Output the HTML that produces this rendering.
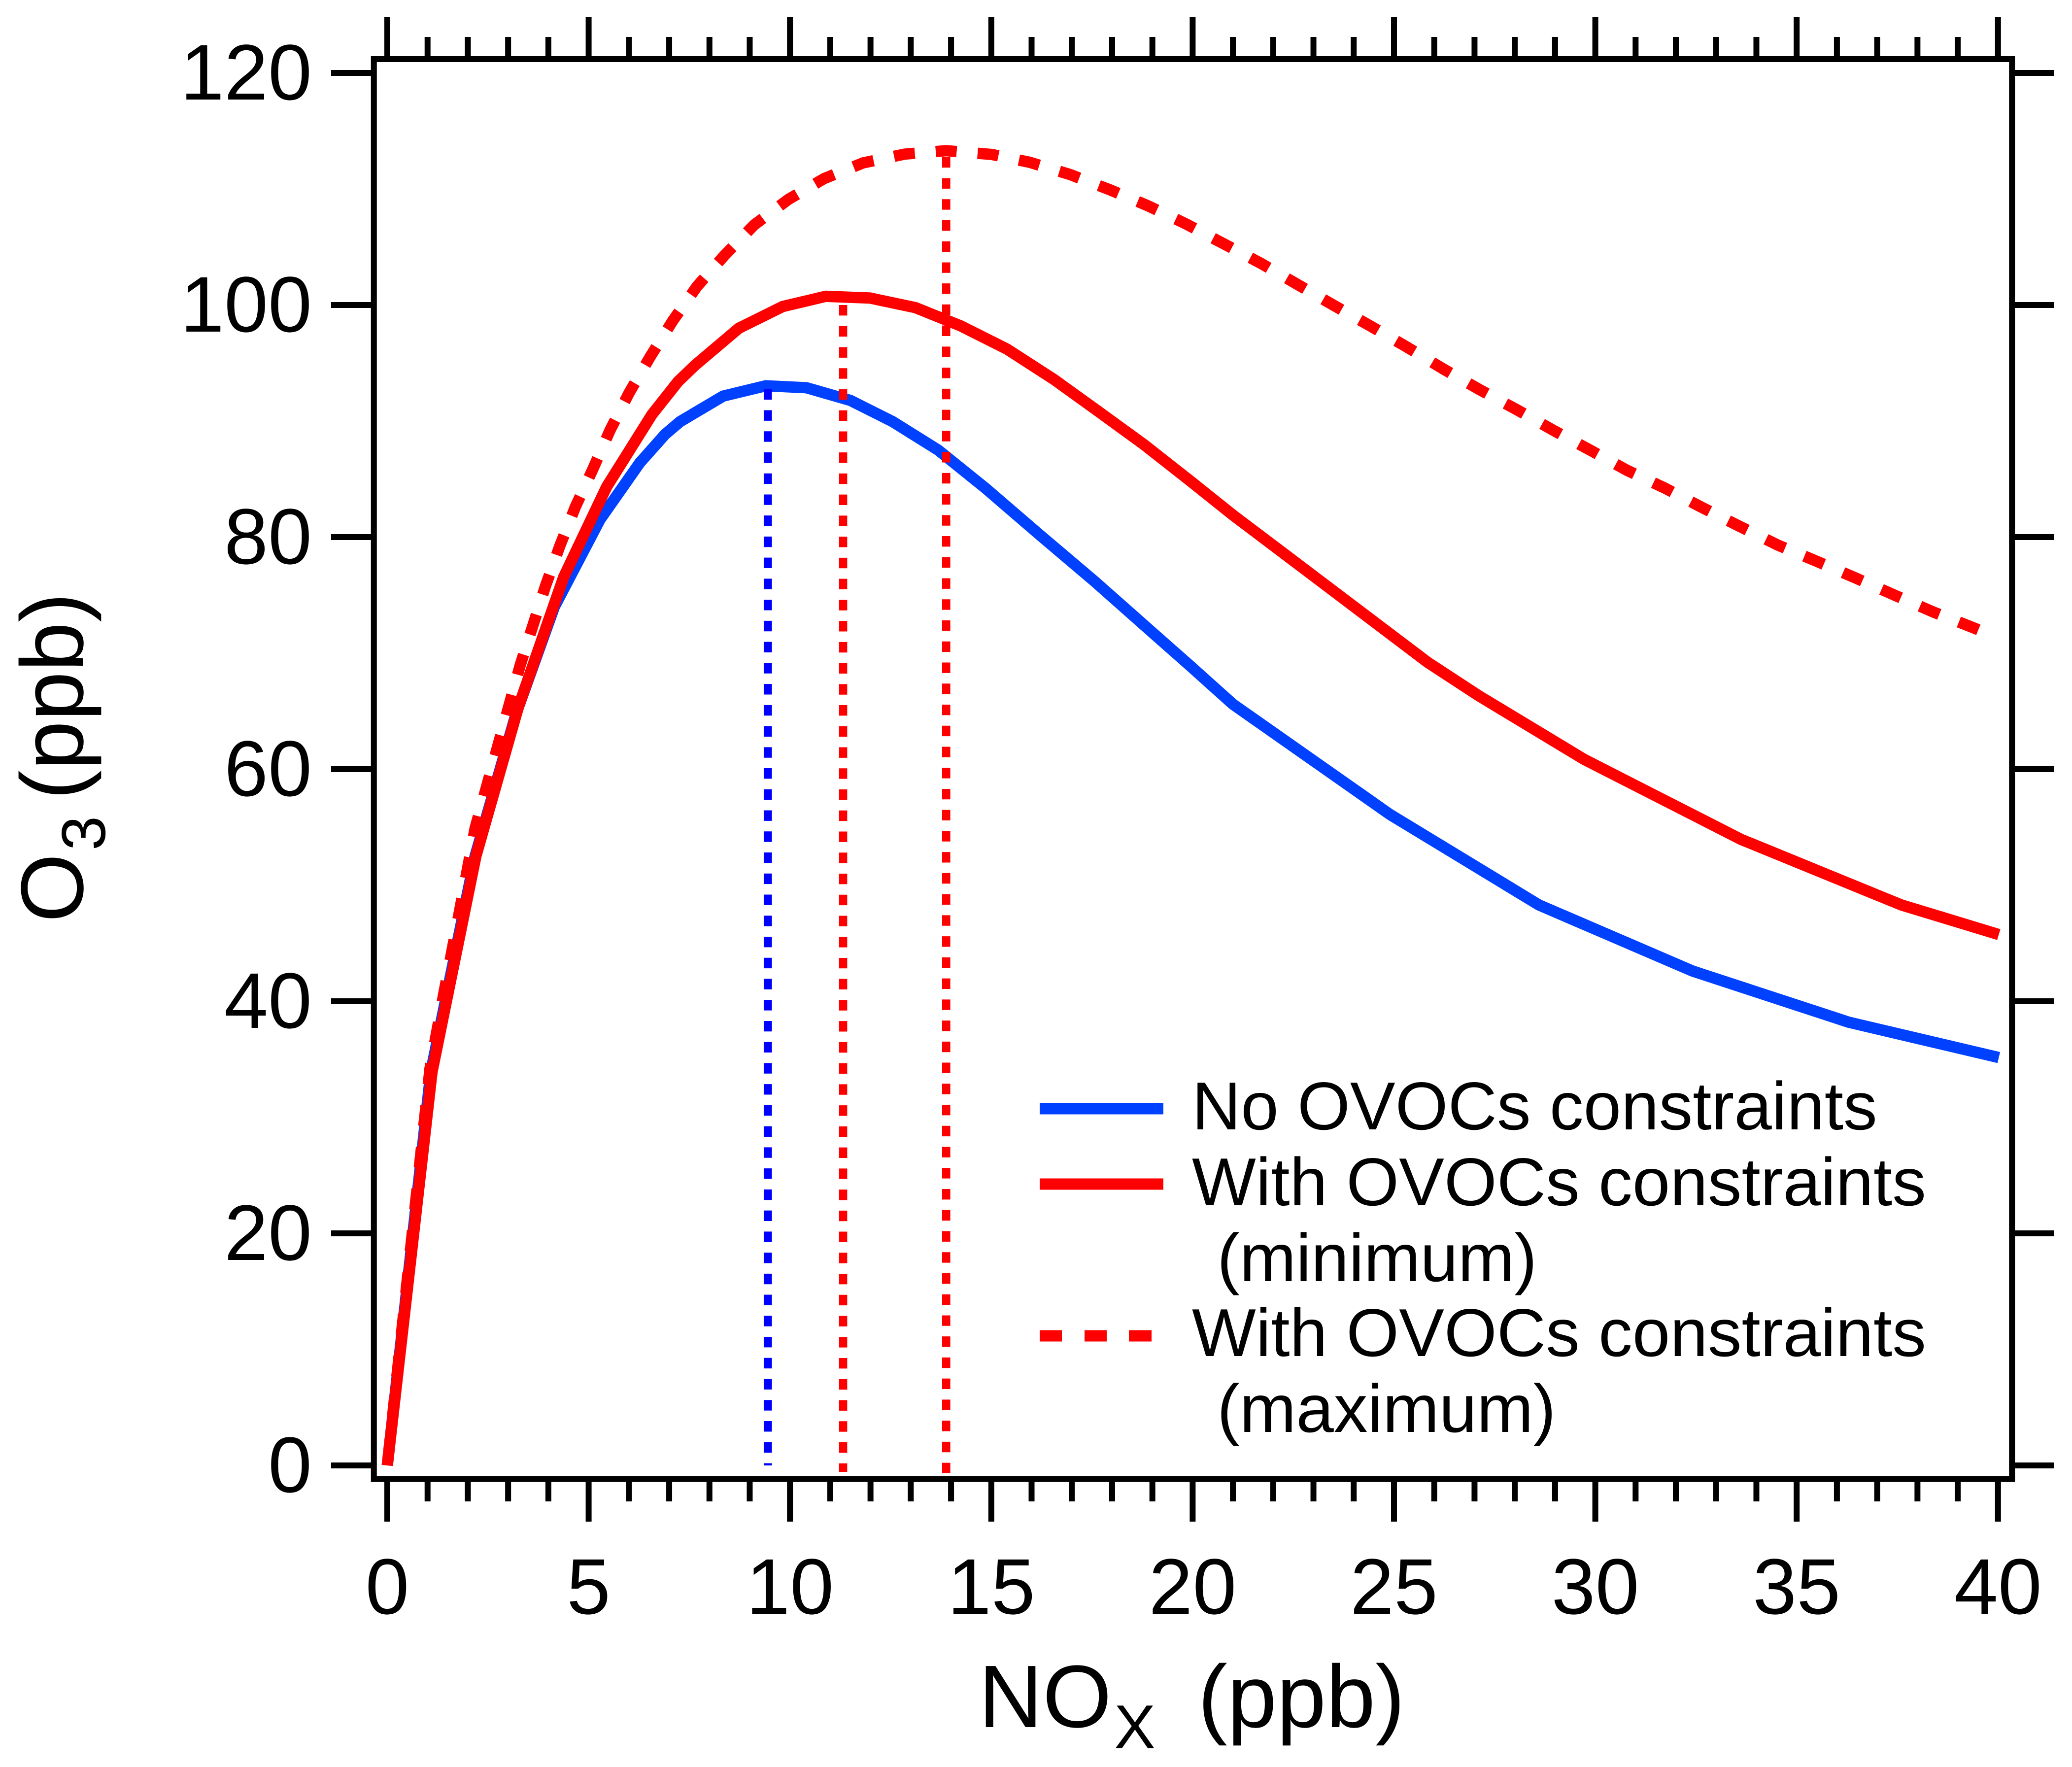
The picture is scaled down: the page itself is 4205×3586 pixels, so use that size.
<!DOCTYPE html>
<html lang="en">
<head>
<meta charset="utf-8">
<title>O3 vs NOx</title>
<style>
html,body{margin:0;padding:0;background:#fff;}
svg{display:block;}
text{font-family:"Liberation Sans",Arial,sans-serif;fill:#000;text-rendering:geometricPrecision;}
</style>
</head>
<body>
<svg id="chart" xmlns="http://www.w3.org/2000/svg" width="4205" height="3586" viewBox="0 0 4205 3586">
  <rect x="0" y="0" width="4205" height="3586" fill="#fff"/>
  <g id="series-layer"></g>
  <g id="marker-layer"></g>
  <rect x="758.75" y="120" width="3324.5" height="2881.5" fill="none" stroke="#000" stroke-width="12"/>
  <g id="axis-layer"></g>

  <text font-size="180" y="3505"><tspan x="1986">NO</tspan><tspan x="2261" y="3548" font-size="126">X</tspan><tspan x="2431" y="3505">(ppb)</tspan></text>
  <g>
    <text font-size="180" transform="translate(168,1872) rotate(-90)">O</text>
    <text font-size="126" transform="translate(213,1726) rotate(-90)">3</text>
    <text font-size="180" transform="translate(168,1623) rotate(-90)">(ppb)</text>
  </g>

  <g>
    <rect x="2110" y="2238.5" width="251" height="23" fill="#0040ff"/>
    <rect x="2110" y="2391.5" width="251" height="23" fill="#ff0000"/>
    <rect x="2110" y="2699.5" width="45" height="23" fill="#ff0000"/>
    <rect x="2201" y="2699.5" width="45" height="23" fill="#ff0000"/>
    <rect x="2291" y="2699.5" width="46" height="23" fill="#ff0000"/>
    <text font-size="137.5" x="2419" y="2292">No OVOCs constraints</text>
    <text font-size="137.5" x="2419" y="2446">With OVOCs constraints</text>
    <text font-size="137.5" x="2470" y="2600">(minimum)</text>
    <text font-size="137.5" x="2419" y="2752">With OVOCs constraints</text>
    <text font-size="137.5" x="2470" y="2906">(maximum)</text>
  </g>
</svg>
<script>
// ---- chart data ----
const xTickLabels = [0, 5, 10, 15, 20, 25, 30, 35, 40];
const yTickLabels = [0, 20, 40, 60, 80, 100, 120];

const noOvocsX = [0, 1.08, 2.18, 3.2, 4.15, 5.28, 6.27, 6.9, 7.27, 8.34, 9.4, 10.41, 11.5, 12.55, 13.68, 14.86, 16.2, 17.56, 18.96, 19.94, 21.0, 24.9, 28.6, 32.42, 36.29, 40.02];
const noOvocsY = [0, 33.9, 52.5, 64.8, 74, 81.5, 86.4, 88.86, 89.95, 92.15, 93.04, 92.87, 91.78, 89.95, 87.5, 84.2, 80.2, 76.2, 71.9, 68.9, 65.6, 56.1, 48.3, 42.6, 38.2, 35.15];

const minOvocsX = [0, 1.11, 2.2, 3.25, 4.38, 5.45, 6.57, 7.22, 7.64, 8.73, 9.82, 10.89, 11.99, 13.12, 14.24, 15.39, 16.55, 17.65, 18.8, 19.9, 21.0, 22.24, 25.84, 27.1, 29.72, 33.62, 37.6, 40.02];
const minOvocsY = [0, 33.9, 52.5, 65.3, 76.55, 84.35, 90.55, 93.4, 94.8, 98.0, 99.87, 100.75, 100.6, 99.77, 98.2, 96.2, 93.6, 90.85, 87.95, 84.95, 81.9, 78.65, 69.2, 66.34, 60.85, 53.95, 48.3, 45.75];

const maxOvocsX = [0, 1.06, 1.4, 1.79, 2.18, 2.74, 3.3, 3.93, 4.28, 4.67, 5.11, 5.53, 6.0, 6.53, 7.09, 7.69, 8.38, 9.11, 9.96, 10.85, 11.82, 12.84, 13.88, 15.02, 15.95, 16.95, 17.93, 18.89, 19.84, 20.76, 21.69, 22.59, 23.49, 24.41, 25.31, 26.22, 27.13, 28.04, 28.96, 29.87, 30.79, 31.74, 32.68, 33.6, 34.54, 35.51, 36.48, 37.43, 38.39, 39.38, 39.95];
const maxOvocsY = [0, 34.2, 40.6, 47.7, 54.9, 61.95, 68.96, 75.8, 79.2, 82.6, 85.9, 89.2, 92.4, 95.55, 98.65, 101.6, 104.3, 106.9, 109.1, 110.9, 112.25, 113, 113.3, 112.97, 112.3, 111.25, 109.95, 108.55, 106.98, 105.3, 103.6, 101.8, 100, 98.2, 96.4, 94.5, 92.7, 91, 89.2, 87.5, 85.75, 84.2, 82.5, 80.9, 79.3, 77.9, 76.45, 75, 73.55, 72.2, 71.4];

const peakMarkerX = [9.45, 11.32, 13.88];
const peakMarkerTop = [92.75, 100, 112.75];
const peakMarkerBottom = [0, -0.55, -0.65];
const peakMarkerNames = ['peak-marker-no-ovocs', 'peak-marker-minimum', 'peak-marker-maximum'];
const peakMarkerColors = ['#0000ff', '#ff0000', '#ff0000'];

// ---- axis functions ----
const NS = 'http://www.w3.org/2000/svg';
function xScale(v) { return 786 + v * 81.72; }
function yScale(v) { return 2974 - v * 23.55; }

function make(tag, attrs, parent) {
  const el = document.createElementNS(NS, tag);
  for (const k in attrs) el.setAttribute(k, attrs[k]);
  parent.appendChild(el);
  return el;
}
function polyPoints(xs, ys) {
  return xs.map(function (x, i) { return xScale(x).toFixed(2) + ',' + yScale(ys[i]).toFixed(2); }).join(' ');
}

const seriesLayer = document.getElementById('series-layer');
const markerLayer = document.getElementById('marker-layer');
const axisLayer = document.getElementById('axis-layer');

// ---- series ----
const lineBlue = make('polyline', { points: polyPoints(noOvocsX, noOvocsY), fill: 'none', stroke: '#0040ff', 'stroke-width': 23, 'stroke-linejoin': 'miter' }, seriesLayer);



const DASH = 42.6;
const anchorIndex = maxOvocsY.indexOf(Math.max.apply(null, maxOvocsY));
let anchorLength = 0;
for (let i = 1; i <= anchorIndex; i++) {
  anchorLength += Math.hypot(xScale(maxOvocsX[i]) - xScale(maxOvocsX[i - 1]), yScale(maxOvocsY[i]) - yScale(maxOvocsY[i - 1]));
}
const dashPhase = (((DASH / 2 - anchorLength) % (2 * DASH)) + 2 * DASH) % (2 * DASH);
const lineMax = make('polyline', { points: polyPoints(maxOvocsX, maxOvocsY), fill: 'none', stroke: '#ff0000', 'stroke-width': 23, 'stroke-dasharray': DASH + ' ' + DASH, 'stroke-dashoffset': dashPhase }, seriesLayer);



const lineMin = make('polyline', { points: polyPoints(minOvocsX, minOvocsY), fill: 'none', stroke: '#ff0000', 'stroke-width': 23, 'stroke-linejoin': 'miter' }, seriesLayer);



// ---- peak markers ----
peakMarkerX.forEach(function (v, i) {
  const m = make('line', { x1: xScale(v), x2: xScale(v), y1: yScale(peakMarkerTop[i]), y2: yScale(peakMarkerBottom[i]), stroke: peakMarkerColors[i], 'stroke-width': 16.6, 'stroke-dasharray': '21.37 21.37' }, markerLayer);
  
  
});

// ---- ticks ----
const TICK = 12;
const xMax = xTickLabels[xTickLabels.length - 1];
for (let v = 0; v <= xMax; v++) {
  const major = v % 5 === 0;
  const x = xScale(v);
  const top = make('line', { x1: x, x2: x, y1: major ? 35 : 75, y2: 120, stroke: '#000', 'stroke-width': TICK }, axisLayer);
  
  
  const bottom = make('line', { x1: x, x2: x, y1: 3001, y2: major ? 3088 : 3047, stroke: '#000', 'stroke-width': TICK }, axisLayer);
  
  
}
xTickLabels.forEach(function (v) {
  const t = make('text', { x: xScale(v), y: 3275, 'font-size': 160, 'text-anchor': 'middle' }, axisLayer);
  
  
  t.textContent = v;
});
yTickLabels.forEach(function (v) {
  const y = yScale(v);
  const l = make('line', { x1: 672, x2: 760, y1: y, y2: y, stroke: '#000', 'stroke-width': TICK }, axisLayer);
  
  
  const r = make('line', { x1: 4082, x2: 4169, y1: y, y2: y, stroke: '#000', 'stroke-width': TICK }, axisLayer);
  
  
  const t = make('text', { x: 633, y: y + 54, 'font-size': 160, 'text-anchor': 'end' }, axisLayer);
  
  
  t.textContent = v;
});
</script>
</body>
</html>
